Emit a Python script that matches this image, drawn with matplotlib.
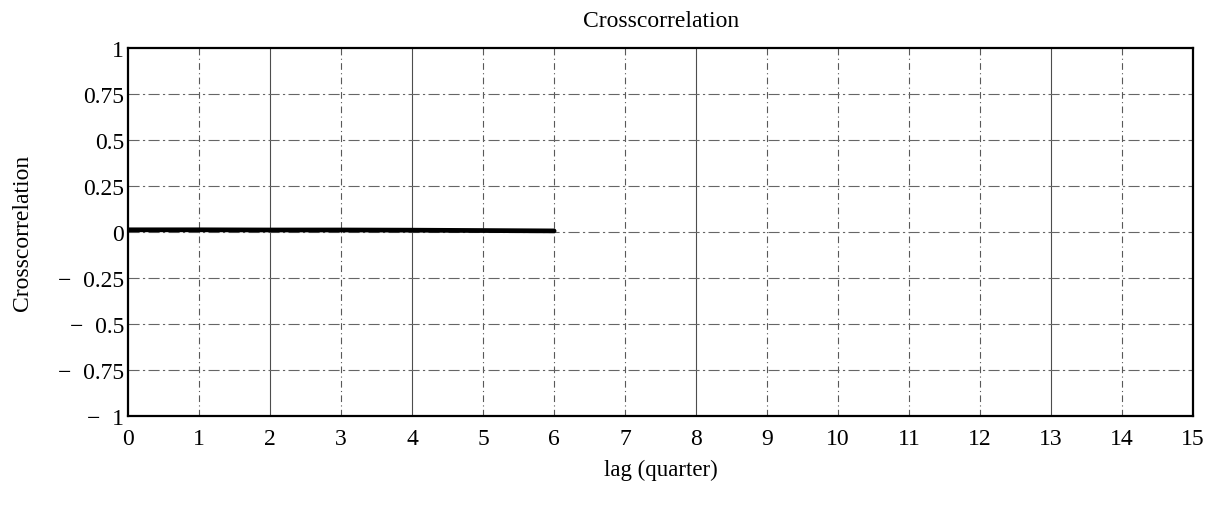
import matplotlib
matplotlib.use("Agg")
import matplotlib.pyplot as plt

# ── Data ────────────────────────────────────────────────────────────────
lags = [0, 1, 2, 3, 4, 5, 6]
xcorr = [0.012, 0.012, 0.011, 0.011, 0.010, 0.008, 0.006]

x_ticks = list(range(0, 16))
y_ticks = [-1, -0.75, -0.5, -0.25, 0, 0.25, 0.5, 0.75, 1]
y_labels = ["\u2212  1", "\u2212  0.75", "\u2212  0.5", "\u2212  0.25", "0", "0.25", "0.5", "0.75", "1"]
solid_vgrid = [2, 4, 8, 13]

plt.rcParams["font.family"] = ["Liberation Serif", "DejaVu Serif"]

fig = plt.figure(figsize=(12.2, 5.06), dpi=100)
ax = fig.add_axes([0.105, 0.176, 0.873, 0.727])

# grid (Mathcad-style broken lines)
for x in x_ticks[1:-1]:
    if x in solid_vgrid:
        ax.axvline(x, color="0.3", lw=0.8, ls="-", zorder=1)
    else:
        ax.axvline(x, color="0.35", lw=0.8, ls=(0, (6, 3, 1, 3)), zorder=1)
for y in y_ticks[1:-1]:
    ax.axhline(y, color="0.4", lw=0.8, ls=(0, (10, 3, 2, 3)), zorder=1)

ax.plot(lags, xcorr, color="black", lw=3.4, zorder=3, solid_capstyle="round")

ax.set_xlim(0, 15)
ax.set_ylim(-1, 1)
ax.set_xticks(x_ticks)
ax.set_xticklabels([str(v) for v in x_ticks], fontsize=17)
ax.set_yticks(y_ticks)
ax.set_yticklabels(y_labels, fontsize=17)
ax.tick_params(length=0, pad=3)
ax.tick_params(axis="x", pad=9)
for s in ax.spines.values():
    s.set_linewidth(1.6)

ax.set_title("Crosscorrelation", fontsize=17, pad=16)
ax.set_xlabel("lag (quarter)", fontsize=16.5, labelpad=7)
ax.set_ylabel("Crosscorrelation", fontsize=17)
ax.yaxis.set_label_coords(-0.089, 0.5)

fig.savefig("out.png", dpi=100)
